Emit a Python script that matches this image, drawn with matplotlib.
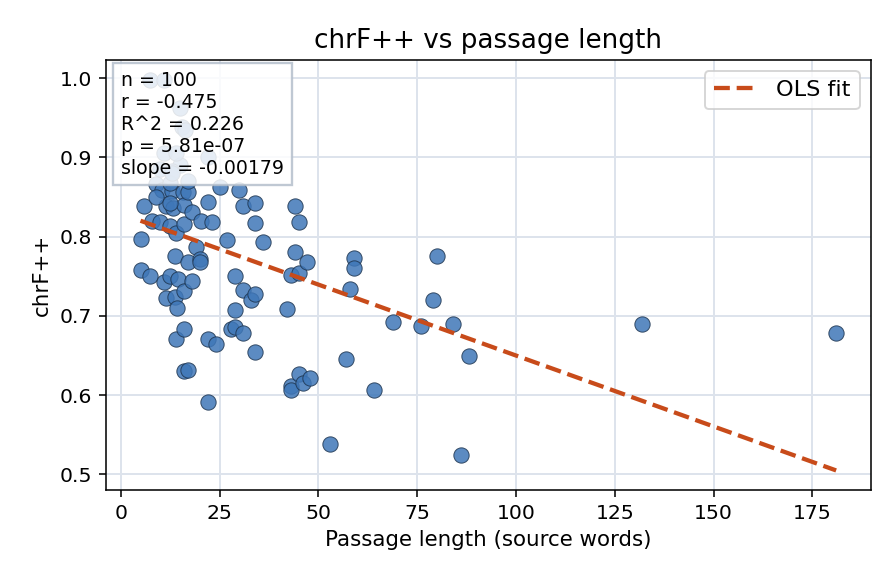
import matplotlib
matplotlib.use("Agg")
import matplotlib.pyplot as plt
import numpy as np

# passage length (source words) and chrF++ score
passage_len = [
    5, 5, 6, 7.3, 8, 9, 10, 10.5, 11.4, 11, 11.4, 12.4, 12.4, 13, 13.2, 13.7,
    13.7, 14, 14.2, 14, 14.4, 15, 15.7, 16, 16, 16, 16, 16, 17, 17, 17, 18,
    18, 19, 20, 20.3, 22, 22, 22, 23, 24, 25, 27, 28, 29, 29, 29, 30, 31, 31,
    31, 33, 34, 34, 34, 34, 36, 42, 43, 43, 43, 44, 44, 45, 45, 45, 46, 47,
    48, 53, 57, 58, 59, 59, 64, 69, 76, 79, 80, 84, 86, 88, 132, 181,
    # partly hidden under the stats box
    7.4, 11, 15, 15.5, 16.3, 11, 14, 22, 10, 13, 12.5, 13, 17, 9, 12.4, 20,
]
chrf = [
    0.797, 0.758, 0.839, 0.750, 0.820, 0.866, 0.818, 0.859, 0.839, 0.743,
    0.722, 0.814, 0.750, 0.858, 0.836, 0.776, 0.724, 0.805, 0.710, 0.671,
    0.747, 0.890, 0.856, 0.840, 0.816, 0.732, 0.684, 0.630, 0.632, 0.856,
    0.768, 0.744, 0.831, 0.787, 0.772, 0.820, 0.844, 0.671, 0.591, 0.819,
    0.664, 0.863, 0.796, 0.684, 0.750, 0.708, 0.686, 0.859, 0.839, 0.733,
    0.679, 0.720, 0.728, 0.655, 0.843, 0.817, 0.793, 0.709, 0.611, 0.606,
    0.752, 0.839, 0.780, 0.818, 0.754, 0.627, 0.615, 0.768, 0.622, 0.538,
    0.645, 0.734, 0.773, 0.761, 0.606, 0.692, 0.687, 0.720, 0.776, 0.690,
    0.525, 0.650, 0.690, 0.678,
    0.998, 0.997, 0.962, 0.938, 0.934, 0.906, 0.906, 0.900, 0.885, 0.883,
    0.868, 0.880, 0.870, 0.850, 0.843, 0.768,
]

stats_lines = ["n = 100", "r = -0.475", "R^2 = 0.226", "p = 5.81e-07",
               "slope = -0.00179"]
fit_slope = -0.00179
fit_intercept = 0.829

fig, ax = plt.subplots(figsize=(6.4, 584 / 140), dpi=140)
fig.subplots_adjust(left=0.118, right=0.972, top=0.897, bottom=0.161)

ax.grid(True, color="#dde3ec", linewidth=1.0, zorder=0)
ax.set_axisbelow(True)

ax.scatter(passage_len, chrf, s=62, color="#3f77b8", alpha=0.85,
           edgecolor="#1e3550", linewidth=0.5, zorder=3)

x_fit = np.array([min(passage_len), max(passage_len)])
y_fit = fit_intercept + fit_slope * x_fit
ax.plot(x_fit, y_fit, linestyle="--", color="#c84b1a", linewidth=2.2,
        label="OLS fit", zorder=4)

ax.text(0.02, 0.975, "\n".join(stats_lines), transform=ax.transAxes,
        fontsize=9.7, va="top", ha="left", linespacing=1.2, zorder=5,
        bbox=dict(boxstyle="square,pad=0.4", facecolor="white", alpha=0.85,
                  edgecolor="#b4bfcc", linewidth=1.2))

ax.set_title("chrF++ vs passage length", fontsize=13.5)
ax.set_xlabel("Passage length (source words)", fontsize=11)
ax.set_ylabel("chrF++", fontsize=11)
ax.set_xticks([0, 25, 50, 75, 100, 125, 150, 175])
ax.set_yticks([0.5, 0.6, 0.7, 0.8, 0.9, 1.0])
ax.tick_params(labelsize=10.5)
ax.legend(loc="upper right", fontsize=11.5)

plt.savefig("out.png", dpi=140)
